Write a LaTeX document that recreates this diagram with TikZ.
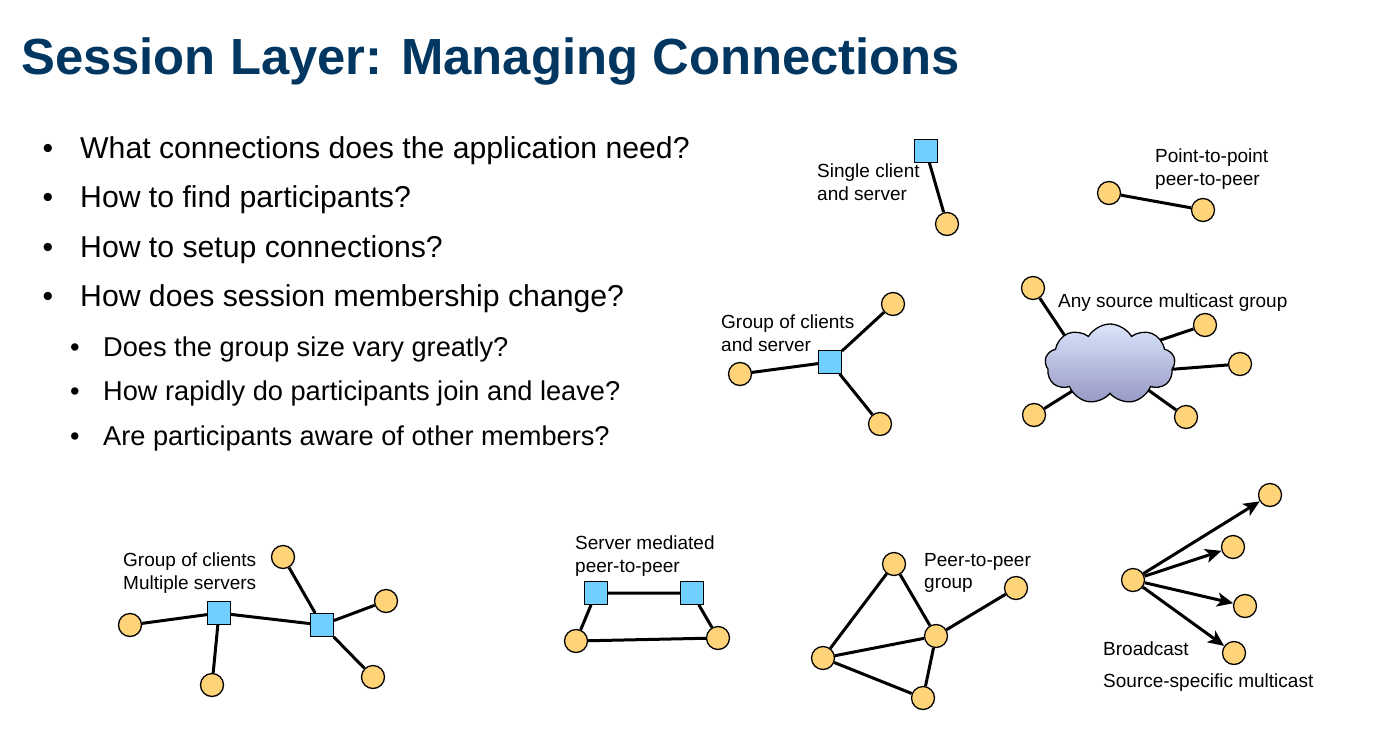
\documentclass[tikz,border=0pt]{standalone}
\usepackage{fontspec}
\setmainfont{Liberation Sans}
\usetikzlibrary{arrows.meta,shapes.symbols,backgrounds}
\definecolor{titleblue}{RGB}{0,54,96}
\definecolor{peerfill}{RGB}{255,211,120}
\definecolor{serverfill}{RGB}{112,207,255}
\definecolor{cloudtop}{RGB}{218,229,250}
\definecolor{cloudbottom}{RGB}{150,152,196}

\begin{document}
\begin{tikzpicture}[x=1pt,y=-1pt,
  peer/.style={circle,draw=black,line width=1.3pt,fill=peerfill,minimum size=23pt,inner sep=0pt},
  server/.style={rectangle,draw=black,line width=1.3pt,fill=serverfill,minimum size=22.5pt,inner sep=0pt},
  link/.style={line width=3pt},
  cast/.style={line width=3pt,-{Stealth[length=16pt,width=14pt,inset=4pt]}},
  lbl/.style={anchor=north west,inner sep=0pt,font=\fontsize{19}{22.5}\selectfont,align=left},
  lblone/.style={anchor=base west,inner sep=0pt,font=\fontsize{19}{22.5}\selectfont},
  mainitem/.style={anchor=base west,inner sep=0pt,font=\fontsize{30.2}{36}\selectfont},
  subitem/.style={anchor=base west,inner sep=0pt,font=\fontsize{27.2}{32}\selectfont},
  mainbullet/.style={anchor=base,inner sep=0pt,font=\fontsize{30.2}{36}\selectfont},
  subbullet/.style={anchor=base,inner sep=0pt,font=\fontsize{27.2}{32}\selectfont}
]
\useasboundingbox (0,0) rectangle (1396,731);
\begin{scope}[on background layer]
  \fill[white] (0,0) rectangle (1396,731);
\end{scope}

% heading
\node[anchor=base west,inner sep=0pt,text=titleblue,
      font=\bfseries\fontsize{50.8}{61}\selectfont] (title) at (21,74)
  {Session Layer: Managing Connections};

% question list
\node[mainbullet] (b1) at (48,158) {•};
\node[mainitem] (q1) at (80,158) {What connections does the application need?};
\node[mainbullet] (b2) at (48,207.5) {•};
\node[mainitem] (q2) at (80,207.5) {How to find participants?};
\node[mainbullet] (b3) at (48,257) {•};
\node[mainitem] (q3) at (80,257) {How to setup connections?};
\node[mainbullet] (b4) at (48,306.5) {•};
\node[mainitem] (q4) at (80,306.5) {How does session membership change?};
\node[subbullet] (sb1) at (75,356) {•};
\node[subitem] (sq1) at (103,356) {Does the group size vary greatly?};
\node[subbullet] (sb2) at (75,400) {•};
\node[subitem] (sq2) at (103,400) {How rapidly do participants join and leave?};
\node[subbullet] (sb3) at (75,445) {•};
\node[subitem] (sq3) at (103,445) {Are participants aware of other members?};

% single client and server
\node[server] (sc) at (926,151) {};
\node[peer] (sp) at (947,224) {};
\node[lbl] (scl) at (817,164) {Single client\\and server};

% point-to-point
\node[peer] (pa) at (1109,193) {};
\node[peer] (pb) at (1203,210) {};
\node[lbl] (pl) at (1155,149) {Point-to-point\\peer-to-peer};

% group of clients and one server
\node[server] (gs) at (830,362) {};
\node[peer] (g1) at (893,304) {};
\node[peer] (g2) at (740,374) {};
\node[peer] (g3) at (880,424) {};
\node[lbl] (gl) at (721,315) {Group of clients\\and server};

% any source multicast group
\node[peer] (m1) at (1033,288) {};
\node[peer] (m2) at (1205,325) {};
\node[peer] (m3) at (1240,364) {};
\node[peer] (m4) at (1034,415) {};
\node[peer] (m5) at (1186,417) {};
\coordinate (h1) at (1075,351);
\coordinate (h2) at (1140,347);
\coordinate (h3) at (1150,371);
\coordinate (h4) at (1085,383);
\coordinate (h5) at (1130,377);
\draw[link] (m1) -- (h1) (m2) -- (h2) (m3) -- (h3) (m4) -- (h4) (m5) -- (h5);
\node[cloud,cloud puffs=9,cloud puff arc=120,aspect=1.6,
      minimum width=130pt,minimum height=80pt,inner sep=0pt,
      draw=black,line width=1.3pt,top color=cloudtop,bottom color=cloudbottom] (cl) at (1110,364) {};
\node[lblone] (ml) at (1058,307) {Any source multicast group};

% group of clients, multiple servers
\node[server] (s1) at (219,613) {};
\node[server] (s2) at (322,625) {};
\node[peer] (c1) at (130,625) {};
\node[peer] (c2) at (212,685) {};
\node[peer] (c3) at (283,557) {};
\node[peer] (c4) at (386,601) {};
\node[peer] (c5) at (373,677) {};
\node[lbl] (cl2) at (123,553) {Group of clients\\Multiple servers};

% server mediated peer-to-peer
\node[server] (r1) at (596,593) {};
\node[server] (r2) at (692,593) {};
\node[peer] (u1) at (576,641) {};
\node[peer] (u2) at (718,638) {};
\node[lbl] (rl) at (575,536) {Server mediated\\peer-to-peer};

% peer-to-peer group
\node[peer] (t1) at (894,564) {};
\node[peer] (t2) at (936,636) {};
\node[peer] (t3) at (823,658) {};
\node[peer] (t4) at (923,698) {};
\node[peer] (t5) at (1016,588) {};
\node[lbl] (tl) at (924,553) {Peer-to-peer\\group};

% broadcast / source-specific multicast
\node[peer] (bs) at (1133,580) {};
\node[peer] (d1) at (1270,495) {};
\node[peer] (d2) at (1233,547) {};
\node[peer] (d3) at (1245,606) {};
\node[peer] (d4) at (1234,653) {};
\draw[cast] (bs) -- (d1);
\draw[cast] (bs) -- (d2);
\draw[cast] (bs) -- (d3);
\draw[cast] (bs) -- (d4);
\node[lblone] (bl) at (1103,655) {Broadcast};
\node[lblone] (sl) at (1103,687) {Source-specific multicast};

% plain links, kept behind the nodes
\begin{scope}[on background layer]
  \draw[link] (sc) -- (sp);
  \draw[link] (pa) -- (pb);
  \draw[link] (gs) -- (g1) (gs) -- (g2) (gs) -- (g3);
  \draw[link] (c1) -- (s1) (s1) -- (c2) (s1) -- (s2)
              (s2) -- (c3) (s2) -- (c4) (s2) -- (c5);
  \draw[link] (r1) -- (r2) (r1) -- (u1) (r2) -- (u2) (u1) -- (u2);
  \draw[link] (t1) -- (t2) (t1) -- (t3) (t3) -- (t2)
              (t3) -- (t4) (t4) -- (t2) (t2) -- (t5);
\end{scope}
\end{tikzpicture}
\end{document}
